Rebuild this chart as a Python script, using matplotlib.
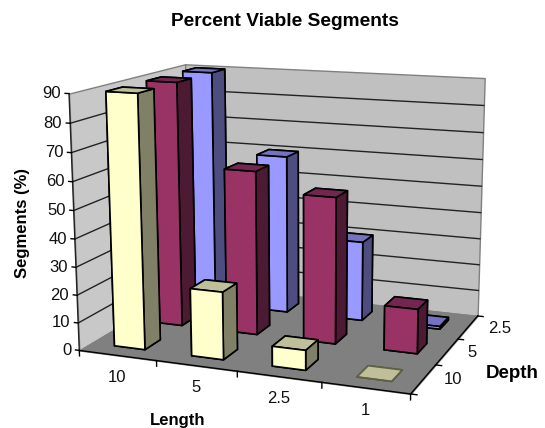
import numpy as np
import matplotlib
matplotlib.use('Agg')
import matplotlib.pyplot as plt
from mpl_toolkits.mplot3d.art3d import Poly3DCollection

plt.rcParams['font.family'] = ['Liberation Sans', 'DejaVu Sans']

lengths = ['10', '5', '2.5', '1']
depths = ['10', '5', '2.5']
z_ticks = [0, 10, 20, 30, 40, 50, 60, 70, 80, 90]

depth_10 = [90, 24, 7, 0]
depth_5 = [90, 60, 53, 16]
depth_2_5 = [90, 60, 30, 1]
series = [depth_10, depth_5, depth_2_5]

# front, side, top face colours per depth row
front_cols = ['#FFFFCC', '#993366', '#9999FF']
side_cols = ['#808066', '#4D1A33', '#4D4D80']
top_cols = ['#BFBF99', '#732650', '#7373BF']

W, H = 545, 428
nx, ny, zmax = len(lengths), len(depths), z_ticks[-1]

# where the corners of the box sit on the picture, used to fit the camera
box_pts = [(0, 0, 0), (0, 0, zmax), (nx, 0, 0), (nx, ny, 0),
           (nx, ny, zmax), (0, ny, zmax), (0, ny, 0)]
box_px = [(78, 350), (70, 94), (411, 394), (477, 316),
          (485, 78), (184, 64), (191, 285)]


def fit_camera(pts, px):
    A, b = [], []
    for (x, y, z), (u, v) in zip(pts, px):
        A.append([x, y, z, 1, 0, 0, 0, 0, -u * x, -u * y, -u * z])
        A.append([0, 0, 0, 0, x, y, z, 1, -v * x, -v * y, -v * z])
        b += [u, v]
    p = np.linalg.lstsq(np.array(A, float), np.array(b, float), rcond=None)[0]
    return np.append(p, 1.0).reshape(3, 4)


P = fit_camera(box_pts, box_px)


def to_px(x, y, z):
    u, v, w = P @ np.array([x, y, z, 1.0])
    return u / w, v / w


fig = plt.figure(figsize=(W / 100, H / 100), dpi=100)
side = W / H
ax = fig.add_axes([0, (1 - side) / 2, 1, side], projection='3d')
ax.set_axis_off()
ax.patch.set_visible(False)
ax.computed_zorder = False


def camera_proj():
    flip = np.array([[1, 0, 0], [0, -1, H], [0, 0, 1.0]])
    inv = ax.transData.inverted().get_matrix()
    m = inv @ flip @ P
    return np.array([m[0], m[1], [0, 0, 0, -1.0], m[2]])


ax.get_proj = camera_proj

# walls and floor
back = [(0, ny, 0), (nx, ny, 0), (nx, ny, zmax), (0, ny, zmax)]
left = [(0, 0, 0), (0, ny, 0), (0, ny, zmax), (0, 0, zmax)]
floor = [(0, 0, 0), (nx, 0, 0), (nx, ny, 0), (0, ny, 0)]
ax.add_collection3d(Poly3DCollection([left], facecolor='#C8C8C8',
                                     edgecolor='#808080', linewidth=1, zorder=1))
ax.add_collection3d(Poly3DCollection([back], facecolor='#C0C0C0',
                                     edgecolor='#808080', linewidth=1, zorder=1))
ax.add_collection3d(Poly3DCollection([floor], facecolor='#808080',
                                     edgecolor='#808080', linewidth=1, zorder=2))

# gridlines
for v in z_ticks[1:-1]:
    ax.plot([0, 0, nx], [0, ny, ny], [v, v, v], color='#222222', lw=1, zorder=3)

# axis lines and ticks
ax.plot([0, 0], [0, 0], [0, zmax], color='#222222', lw=1, zorder=4)
ax.plot([0, nx, nx], [0, 0, ny], [0, 0, 0], color='black', lw=1, zorder=4)
for v in z_ticks:
    ax.plot([-0.05, 0], [0, 0], [v, v], color='black', lw=1, zorder=4)
for i in range(nx + 1):
    ax.plot([i, i], [0, 0], [-2, 0], color='black', lw=1, zorder=4)
for j in range(ny + 1):
    ax.plot([nx, nx + 0.07], [j, j], [0, 0], color='black', lw=1, zorder=4)

# bars, back row first and right to left so nearer ones paint over
for j in range(ny - 1, -1, -1):
    for i in range(nx - 1, -1, -1):
        # bar3d face order: bottom, top, front, back, left, right
        cols = [side_cols[j], top_cols[j], front_cols[j], side_cols[j],
                side_cols[j], side_cols[j]]
        height = series[j][i]
        ax.bar3d(i + 0.3, j + 0.3, 0, 0.4, 0.4, height, color=cols, shade=False,
                 edgecolor='black' if height > 0 else '#606048',
                 linewidth=1.2, zorder=10 + (ny - j) * 10 + (nx - i))


def px_text(x, y, s, **kw):
    fig.text(x / W, 1 - y / H, s, **kw)


for v in z_ticks:
    x0, y0 = to_px(0, 0, v)
    px_text(x0 - 8, y0, str(v), ha='right', va='center', fontsize=12, color='#111111')
for i, lab in enumerate(lengths):
    x0, y0 = to_px(i + 0.5, 0, 0)
    px_text(x0, y0 + 22, lab, ha='center', va='center', fontsize=12, color='#111111')
for j, lab in enumerate(depths):
    x0, y0 = to_px(nx, j + 0.5, 0)
    px_text(x0 + 20, y0 + 1, lab, ha='left', va='center', fontsize=12, color='#111111')

px_text(285, 21, 'Percent Viable Segments', ha='center', va='center', fontsize=13.8,
        fontweight='bold', color='black')
px_text(23, 223, 'Segments (%)', ha='center', va='center', rotation=90, fontsize=12,
        fontweight='bold', color='black')
px_text(178, 420, 'Length', ha='center', va='center', fontsize=12,
        fontweight='bold', color='black')
px_text(512, 373, 'Depth', ha='center', va='center', fontsize=13.5,
        fontweight='bold', color='black')

fig.savefig('out.png', dpi=100)
